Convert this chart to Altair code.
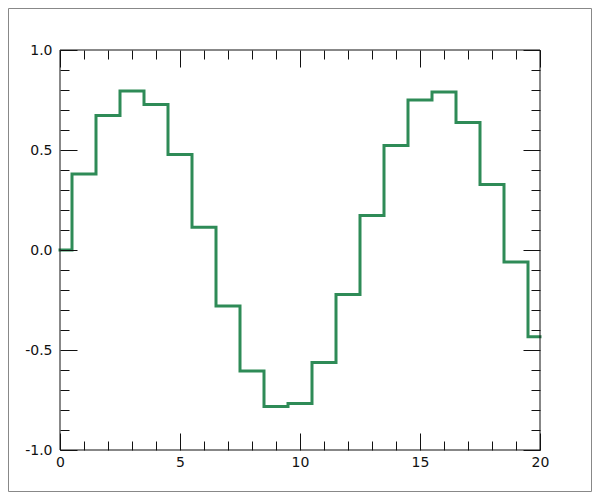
import altair as alt
import pandas as pd

# Data
x_vals = list(range(21))
y_vals = [0.0, 0.38, 0.672, 0.795, 0.727, 0.477, 0.114, -0.28, -0.605, -0.782,
          -0.767, -0.563, -0.222, 0.173, 0.523, 0.75, 0.79, 0.637, 0.328, -0.06, -0.434]

x_major = [0, 5, 10, 15, 20]
x_minor = [v for v in range(21) if v % 5 != 0]
y_major = [-1.0, -0.5, 0.0, 0.5, 1.0]
y_minor = [round(-1 + 0.1 * i, 1) for i in range(21) if i % 5 != 0]

df = pd.DataFrame({"x": x_vals, "y": y_vals})

W, H = 480, 400
FONT = "DejaVu Sans"
xs = alt.Scale(domain=[0, 20], nice=False, zero=False)
ys = alt.Scale(domain=[-1, 1], nice=False, zero=False)

base_axis = dict(grid=False, domain=False, tickColor="#111", tickWidth=1,
                 labelFont=FONT, labelFontSize=14, labelColor="#111", zindex=2,
                 title=None, labelFlush=False, labelOverlap=False)


def label_axis(orient, values, expr, pad):
    d = dict(base_axis)
    d.update(orient=orient, values=values, ticks=False, labels=True,
             labelExpr=expr, labelPadding=pad)
    return alt.Axis(**d)


def tick_axis(orient, values, size):
    d = dict(base_axis)
    d.update(orient=orient, values=values, tickSize=size, labels=False,
             offset=-size)
    return alt.Axis(**d)


yexpr = ("datum.value < 0 ? '-' + format(-datum.value, '.1f') "
         ": format(datum.value, '.1f')")

line = alt.Chart(df).mark_line(
    interpolate="step", color="#2e8b57", strokeWidth=3, strokeCap="square"
).encode(
    x=alt.X("x:Q", scale=xs,
            axis=label_axis("bottom", x_major, "format(datum.value, 'd')", 5)),
    y=alt.Y("y:Q", scale=ys, axis=label_axis("left", y_major, yexpr, 8)),
)


def ghost(xaxis, yaxis):
    return alt.Chart(df).mark_point(opacity=0).encode(
        x=alt.X("x:Q", scale=xs, axis=xaxis),
        y=alt.Y("y:Q", scale=ys, axis=yaxis),
    )


g1 = ghost(tick_axis("bottom", x_major, 17), tick_axis("left", y_major, 17))
g2 = ghost(tick_axis("bottom", x_minor, 9), tick_axis("left", y_minor, 9))
g3 = ghost(tick_axis("top", x_major, 17), tick_axis("right", y_major, 17))
g4 = ghost(tick_axis("top", x_minor, 9), tick_axis("right", y_minor, 9))

frame = alt.Chart(df).mark_rect(fill=None, stroke="#111", strokeWidth=1).encode(
    x=alt.value(0), x2=alt.value(W), y=alt.value(0), y2=alt.value(H)
).transform_filter("datum.x == 0")

border = alt.Chart(df).mark_rect(fill=None, stroke="#888", strokeWidth=1).encode(
    x=alt.value(-51.5), x2=alt.value(531.5), y=alt.value(-41.5), y2=alt.value(441.5)
).transform_filter("datum.x == 0")

chart = alt.layer(line, g1, g2, g3, g4, frame, border).resolve_axis(
    x="independent", y="independent"
).properties(
    width=W, height=H,
    autosize=alt.AutoSizeParams(type="none"),
    padding={"left": 52, "top": 42, "right": 52, "bottom": 42},
    background="white",
).configure_view(stroke=None)

chart.save("out.html", embed_options={"renderer": "svg", "actions": False})
